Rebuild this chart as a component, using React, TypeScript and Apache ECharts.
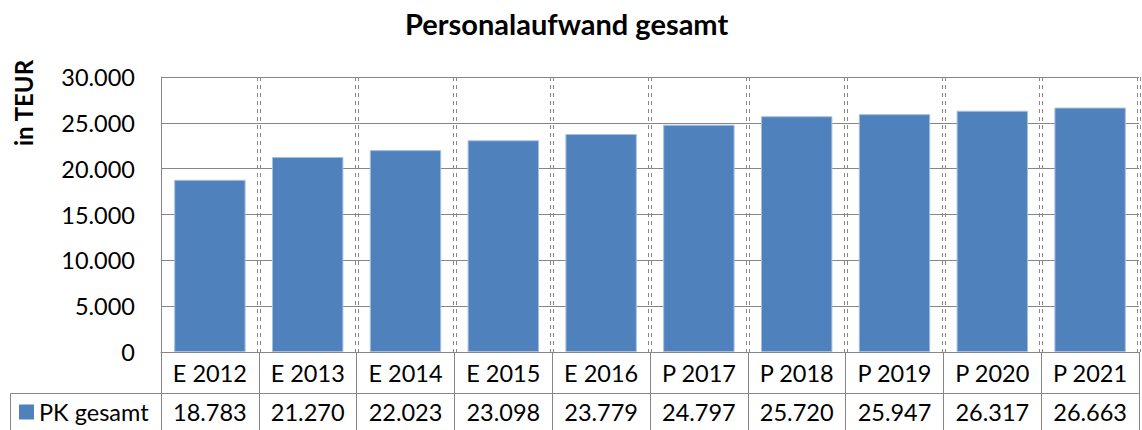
import React, { useEffect, useRef } from "react";
import * as echarts from "echarts";

const title = "Personalaufwand gesamt";
const yAxisName = "in TEUR";
const seriesName = "PK gesamt";
const categories = ["E 2012", "E 2013", "E 2014", "E 2015", "E 2016", "P 2017", "P 2018", "P 2019", "P 2020", "P 2021"];
const values = [18783, 21270, 22023, 23098, 23779, 24797, 25720, 25947, 26317, 26663];
const yMin = 0;
const yMax = 30000;
const yInterval = 5000;

const fmt = (v: number) => String(Math.round(v)).replace(/\B(?=(\d{3})+(?!\d))/g, ".");

const FONT = "Lato, 'Open Sans', sans-serif";
const GRID_COLOR = "#868686";
const BAR_COLOR = "#4F81BD";
const FS = 23.5;

export default function App() {
  const ref = useRef<HTMLDivElement>(null);
  useEffect(() => {
    if (!ref.current) return;
    const chart = echarts.init(ref.current, undefined, { renderer: "svg" });
    const L = 161;
    const R = 3;
    const T = 77;
    const B = 78;
    const dashed = {
      show: true,
      showMinLine: false,
      showMaxLine: true,
      interval: 0,
      lineStyle: { color: "#8a8a8a", width: 1, type: [4, 4] as any },
    };
    const hiddenAxis = {
      axisLine: { show: false },
      axisTick: { show: false },
      axisLabel: { show: false },
    };
    chart.setOption({
      animation: false,
      title: {
        text: title,
        left: 400,
        top: 4,
        textStyle: { fontFamily: FONT, fontSize: 29, fontWeight: "bold", color: "#000" },
      },
      legend: {
        data: [seriesName],
        left: 19,
        top: 397,
        padding: 0,
        icon: "rect",
        itemWidth: 15,
        itemHeight: 15,
        itemStyle: { borderWidth: 0 },
        textStyle: { fontFamily: FONT, fontSize: 23.5, color: "#000", lineHeight: 30 },
      },
      grid: [
        { left: L, right: R, top: T, bottom: B },
        { left: L - 1.5, right: R + 1.5, top: T, bottom: B },
        { left: L + 1.5, right: R - 1.5, top: T, bottom: B },
      ],
      xAxis: [
        {
          type: "category",
          gridIndex: 0,
          data: categories,
          position: "bottom",
          axisLine: { show: true, lineStyle: { color: GRID_COLOR, width: 1 } },
          axisTick: { show: true, length: 41, interval: 0, lineStyle: { color: GRID_COLOR } },
          axisLabel: { interval: 0, margin: 9, fontFamily: FONT, fontSize: FS, color: "#000" },
          splitLine: { show: false },
        },
        {
          type: "category",
          gridIndex: 0,
          data: categories,
          position: "bottom",
          offset: 41,
          axisLine: { show: true, lineStyle: { color: GRID_COLOR, width: 1 } },
          axisTick: { show: true, length: 45, interval: 0, lineStyle: { color: GRID_COLOR } },
          axisLabel: {
            interval: 0,
            margin: 7,
            fontFamily: FONT,
            fontSize: FS,
            color: "#000",
            formatter: (_v: string, i: number) => fmt(values[i]),
          },
          splitLine: { show: false },
        },
        { type: "category", gridIndex: 1, data: categories, ...hiddenAxis, splitLine: dashed },
        { type: "category", gridIndex: 2, data: categories, ...hiddenAxis, splitLine: dashed },
      ],
      yAxis: [
        {
          type: "value",
          gridIndex: 0,
          min: yMin,
          max: yMax,
          interval: yInterval,
          axisLine: { show: true, lineStyle: { color: GRID_COLOR, width: 1 } },
          axisTick: { show: false },
          axisLabel: {
            margin: 26,
            fontFamily: FONT,
            fontSize: FS,
            color: "#000",
            formatter: (v: number) => fmt(v),
          },
          splitLine: { show: true, lineStyle: { color: GRID_COLOR, width: 1 } },
        },
        { type: "value", gridIndex: 1, min: yMin, max: yMax, ...hiddenAxis, splitLine: { show: false } },
        { type: "value", gridIndex: 2, min: yMin, max: yMax, ...hiddenAxis, splitLine: { show: false } },
      ],
      series: [
        {
          name: seriesName,
          type: "bar",
          xAxisIndex: 0,
          yAxisIndex: 0,
          data: values,
          barWidth: "73%",
          itemStyle: { color: BAR_COLOR, borderColor: "#A7BFDE", borderWidth: 1 },
        },
      ],
      graphic: [
        {
          type: "text",
          x: 23,
          y: 103,
          rotation: Math.PI / 2,
          style: {
            text: yAxisName,
            fontFamily: FONT,
            fontSize: 24,
            fontWeight: "bold",
            fill: "#000",
            align: "center",
            verticalAlign: "middle",
          },
        },
        {
          type: "line",
          shape: { x1: 10.5, y1: 393.5, x2: L, y2: 393.5 },
          style: { stroke: GRID_COLOR, lineWidth: 1 },
        },
        {
          type: "line",
          shape: { x1: 10.5, y1: 393.5, x2: 10.5, y2: 440 },
          style: { stroke: GRID_COLOR, lineWidth: 1 },
        },
      ],
    });
    return () => chart.dispose();
  }, []);
  return <div ref={ref} style={{ position: "fixed", left: 0, top: 0, width: 1142, height: 430, background: "#fff" }} />;
}
